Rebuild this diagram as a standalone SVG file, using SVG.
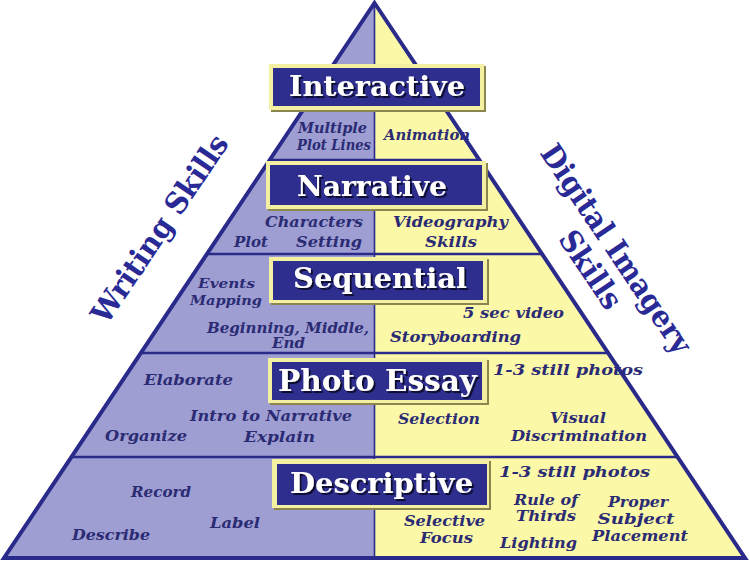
<svg xmlns="http://www.w3.org/2000/svg" width="750" height="561" viewBox="0 0 750 561">
<defs>
  <filter id="ds" x="-10%" y="-20%" width="120%" height="150%">
    <feDropShadow dx="2" dy="2" stdDeviation="0.6" flood-color="#0e0e30" flood-opacity="1"/>
  </filter>
</defs>
<style>
.lbl{font-family:"DejaVu Serif","Liberation Serif",serif;font-weight:bold;font-style:italic;font-size:14px;fill:#2b2b74}
.side{font-family:"DejaVu Serif","Liberation Serif",serif;font-weight:bold;font-size:30px;fill:#2a2a96}
.ttl{font-family:"DejaVu Serif","Liberation Serif",serif;font-weight:bold;font-size:28px;fill:#ffffff;filter:url(#ds)}
.band{stroke:#2a2a8a;stroke-width:2.5;fill:none}
.frameShadow{fill:#8c864e}
.frame{fill:#f4f0a2}
.inner{fill:#2e2e8e}
</style>
<rect width="750" height="561" fill="#ffffff"/>
<g id="pyramid">
  <polygon points="374.5,3 374.5,558 4,558" fill="#9e9ed2"/>
  <polygon points="374.5,3 745,558 374.5,558" fill="#fbf8a8"/>
</g>
<g id="labels">
  <g id="tier-interactive-labels">
    <text class="lbl" x="298" y="133" textLength="69" lengthAdjust="spacingAndGlyphs">Multiple</text>
    <text class="lbl" x="297" y="150" textLength="74" lengthAdjust="spacingAndGlyphs">Plot Lines</text>
    <text class="lbl" x="384" y="140" textLength="86" lengthAdjust="spacingAndGlyphs">Animation</text>
  </g>
  <g id="tier-narrative-labels">
    <text class="lbl" x="265" y="227" textLength="98" lengthAdjust="spacingAndGlyphs">Characters</text>
    <text class="lbl" x="234" y="247" textLength="34" lengthAdjust="spacingAndGlyphs">Plot</text>
    <text class="lbl" x="296" y="247" textLength="66" lengthAdjust="spacingAndGlyphs">Setting</text>
    <text class="lbl" x="393" y="227" textLength="115" lengthAdjust="spacingAndGlyphs">Videography</text>
    <text class="lbl" x="425" y="247" textLength="52" lengthAdjust="spacingAndGlyphs">Skills</text>
  </g>
  <g id="tier-sequential-labels">
    <text class="lbl" x="198" y="288" textLength="57" lengthAdjust="spacingAndGlyphs" style="font-size:13px">Events</text>
    <text class="lbl" x="190" y="305" textLength="72" lengthAdjust="spacingAndGlyphs" style="font-size:13px">Mapping</text>
    <text class="lbl" x="207" y="333" textLength="162" lengthAdjust="spacingAndGlyphs">Beginning, Middle,</text>
    <text class="lbl" x="272" y="348" textLength="33" lengthAdjust="spacingAndGlyphs">End</text>
    <text class="lbl" x="463" y="318" textLength="101" lengthAdjust="spacingAndGlyphs">5 sec video</text>
    <text class="lbl" x="390" y="342" textLength="131" lengthAdjust="spacingAndGlyphs">Storyboarding</text>
  </g>
  <g id="tier-photo-essay-labels">
    <text class="lbl" x="144" y="385" textLength="89" lengthAdjust="spacingAndGlyphs">Elaborate</text>
    <text class="lbl" x="493" y="375" textLength="150" lengthAdjust="spacingAndGlyphs">1-3 still photos</text>
    <text class="lbl" x="190" y="421" textLength="162" lengthAdjust="spacingAndGlyphs">Intro to Narrative</text>
    <text class="lbl" x="105" y="441" textLength="82" lengthAdjust="spacingAndGlyphs">Organize</text>
    <text class="lbl" x="244" y="442" textLength="71" lengthAdjust="spacingAndGlyphs">Explain</text>
    <text class="lbl" x="398" y="424" textLength="82" lengthAdjust="spacingAndGlyphs">Selection</text>
    <text class="lbl" x="550" y="423" textLength="56" lengthAdjust="spacingAndGlyphs">Visual</text>
    <text class="lbl" x="511" y="441" textLength="136" lengthAdjust="spacingAndGlyphs">Discrimination</text>
  </g>
  <g id="tier-descriptive-labels">
    <text class="lbl" x="499" y="477" textLength="151" lengthAdjust="spacingAndGlyphs">1-3 still photos</text>
    <text class="lbl" x="131" y="497" textLength="60" lengthAdjust="spacingAndGlyphs">Record</text>
    <text class="lbl" x="514" y="505" textLength="64" lengthAdjust="spacingAndGlyphs">Rule of</text>
    <text class="lbl" x="516" y="521" textLength="60" lengthAdjust="spacingAndGlyphs">Thirds</text>
    <text class="lbl" x="500" y="548" textLength="77" lengthAdjust="spacingAndGlyphs">Lighting</text>
    <text class="lbl" x="404" y="526" textLength="81" lengthAdjust="spacingAndGlyphs">Selective</text>
    <text class="lbl" x="420" y="543" textLength="53" lengthAdjust="spacingAndGlyphs">Focus</text>
    <text class="lbl" x="210" y="528" textLength="50" lengthAdjust="spacingAndGlyphs">Label</text>
    <text class="lbl" x="72" y="540" textLength="78" lengthAdjust="spacingAndGlyphs">Describe</text>
    <text class="lbl" x="638" y="507" text-anchor="middle" textLength="60" lengthAdjust="spacingAndGlyphs">Proper</text>
    <text class="lbl" x="636" y="524" text-anchor="middle" textLength="77" lengthAdjust="spacingAndGlyphs">Subject</text>
    <text class="lbl" x="640" y="541" text-anchor="middle" textLength="96" lengthAdjust="spacingAndGlyphs">Placement</text>
  </g>
</g>
<g id="connectors">
  <line class="band" x1="374.5" y1="3" x2="374.5" y2="558" style="stroke-width:1.6"/>
  <line class="band" x1="269.7" y1="160" x2="479.3" y2="160"/>
  <line class="band" x1="206.9" y1="254" x2="542.1" y2="254"/>
  <line class="band" x1="140.8" y1="353" x2="608.2" y2="353"/>
  <line class="band" x1="71.4" y1="457" x2="677.6" y2="457"/>
  <polygon class="band" points="374.5,3 745,558 4,558" style="stroke-width:4;stroke-linejoin:miter"/>
</g>
<g id="node-interactive">
  <rect class="frameShadow" x="271" y="66" width="215" height="46"/>
  <rect class="frame" x="269" y="64" width="215" height="46"/>
  <rect class="inner" x="273" y="68" width="207" height="38"/>
  <text class="ttl" x="289" y="96" textLength="176" lengthAdjust="spacingAndGlyphs">Interactive</text>
</g>
<g id="node-narrative">
  <rect class="frameShadow" x="268" y="163" width="220" height="48"/>
  <rect class="frame" x="266" y="161" width="220" height="48"/>
  <rect class="inner" x="270" y="165" width="212" height="40"/>
  <text class="ttl" x="297" y="196" textLength="150" lengthAdjust="spacingAndGlyphs">Narrative</text>
</g>
<g id="node-sequential">
  <rect class="frameShadow" x="271" y="259" width="218" height="46"/>
  <rect class="frame" x="269" y="257" width="218" height="46"/>
  <rect class="inner" x="273" y="261" width="210" height="39"/>
  <text class="ttl" x="293" y="288" textLength="174" lengthAdjust="spacingAndGlyphs">Sequential</text>
</g>
<g id="node-photo-essay">
  <rect class="frameShadow" x="270" y="360" width="219" height="45"/>
  <rect class="frame" x="268" y="358" width="219" height="45"/>
  <rect class="inner" x="272" y="362" width="210" height="38"/>
  <text class="ttl" x="278" y="391" textLength="199" lengthAdjust="spacingAndGlyphs" style="font-size:30px">Photo Essay</text>
</g>
<g id="node-descriptive">
  <rect class="frameShadow" x="274" y="461" width="217" height="49"/>
  <rect class="frame" x="272" y="459" width="217" height="49"/>
  <rect class="inner" x="277" y="464" width="210" height="41"/>
  <text class="ttl" x="290" y="493" textLength="183" lengthAdjust="spacingAndGlyphs">Descriptive</text>
</g>
<g id="node-writing-skills" transform="translate(160,229) rotate(-56)">
  <text class="side" x="0" y="10" text-anchor="middle" textLength="220" lengthAdjust="spacingAndGlyphs">Writing Skills</text>
</g>
<g id="node-digital-imagery-skills" transform="translate(616,249) rotate(56)">
  <text class="side" x="0" y="10" text-anchor="middle" textLength="245" lengthAdjust="spacingAndGlyphs">Digital Imagery</text>
  <text class="side" x="3" y="43" text-anchor="middle" textLength="88" lengthAdjust="spacingAndGlyphs">Skills</text>
</g>
</svg>
